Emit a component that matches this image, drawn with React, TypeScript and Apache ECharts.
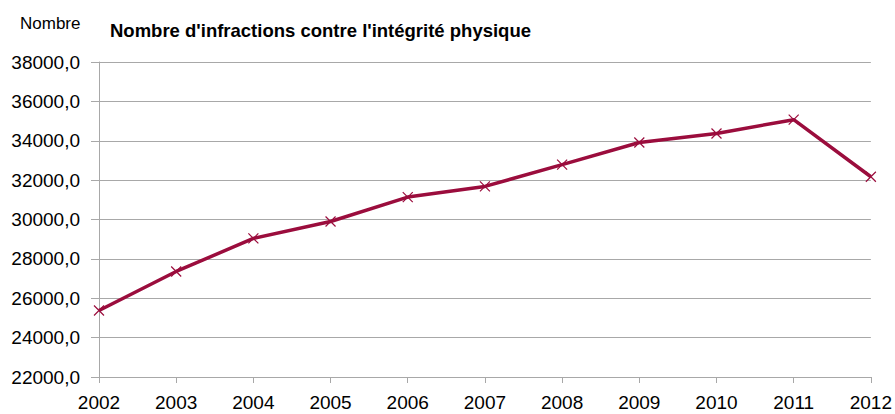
import React, { useEffect, useRef } from "react";
import * as echarts from "echarts";

const years = ["2002", "2003", "2004", "2005", "2006", "2007", "2008", "2009", "2010", "2011", "2012"];
const infractions = [25380, 27360, 29040, 29900, 31140, 31680, 32790, 33910, 34370, 35070, 32170];
const yMin = 22000;
const yMax = 38000;
const yStep = 2000;
const unitLabel = "Nombre";
const chartTitle = "Nombre d'infractions contre l'intégrité physique";

const FONT = "'Liberation Sans', Arial, sans-serif";
const LINE_COLOR = "#9b0d3d";
const GRID_COLOR = "#a8a8a8";

export default function App() {
  const ref = useRef<HTMLDivElement>(null);

  useEffect(() => {
    if (!ref.current) return;
    const chart = echarts.init(ref.current, null, { renderer: "svg" });
    chart.setOption({
      animation: false,
      backgroundColor: "#ffffff",
      textStyle: { fontFamily: FONT },
      grid: { left: 99, right: 23, top: 62, bottom: 37, containLabel: false },
      graphic: [
        {
          type: "text",
          x: 20,
          y: 23,
          style: {
            text: unitLabel,
            fontFamily: FONT,
            fontSize: 17,
            fill: "#000",
            textVerticalAlign: "middle",
          },
        },
        {
          type: "text",
          x: 110,
          y: 30,
          style: {
            text: chartTitle,
            fontFamily: FONT,
            fontSize: 18.5,
            fontWeight: "bold",
            fill: "#000",
            textVerticalAlign: "middle",
          },
        },
      ],
      xAxis: {
        type: "category",
        data: years,
        boundaryGap: false,
        axisLine: { show: true, lineStyle: { color: GRID_COLOR, width: 1 } },
        axisTick: { show: true, length: 6, lineStyle: { color: GRID_COLOR } },
        axisLabel: { color: "#000", fontSize: 19, fontFamily: FONT, margin: 16, interval: 0 },
        splitLine: { show: false },
      },
      yAxis: {
        type: "value",
        min: yMin,
        max: yMax,
        interval: yStep,
        axisLine: { show: true, lineStyle: { color: GRID_COLOR, width: 1 } },
        axisTick: { show: true, length: 8, lineStyle: { color: GRID_COLOR } },
        axisLabel: {
          color: "#000",
          fontSize: 19,
          fontFamily: FONT,
          margin: 19,
          formatter: (v: number) => v.toFixed(1).replace(".", ","),
        },
        splitLine: { show: true, lineStyle: { color: GRID_COLOR, width: 1 } },
      },
      series: [
        {
          type: "line",
          data: infractions,
          symbol: "path://M0,0L10,10M0,10L10,0",
          symbolSize: 10,
          showSymbol: true,
          lineStyle: { color: LINE_COLOR, width: 3.5 },
          itemStyle: { color: "none", borderColor: LINE_COLOR, borderWidth: 1.2 },
          emphasis: { disabled: true },
        },
      ],
    });
    return () => chart.dispose();
  }, []);

  return (
    <div
      ref={ref}
      style={{ position: "absolute", left: 0, top: 0, width: 895, height: 414 }}
    />
  );
}
